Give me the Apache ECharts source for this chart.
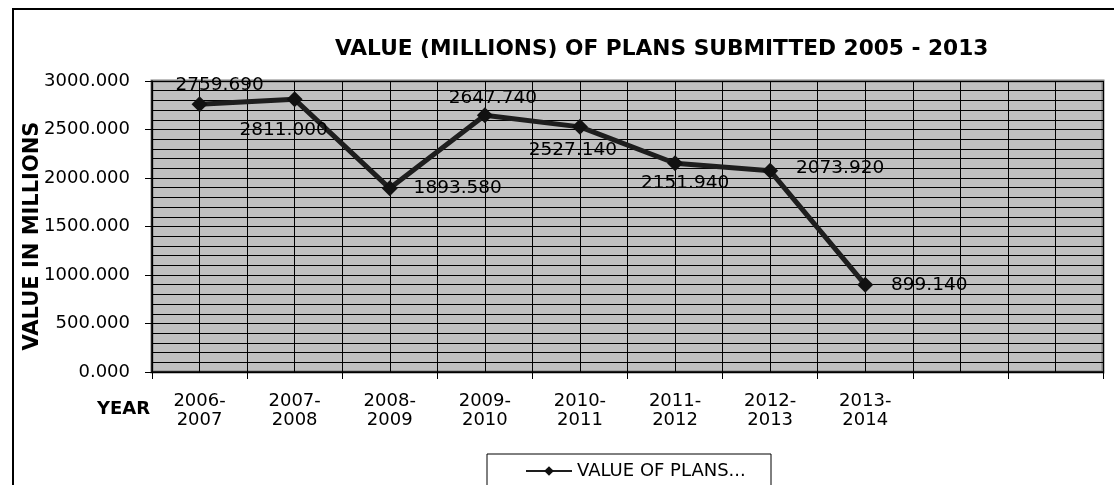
<!DOCTYPE html>
<html>
<head>
<meta charset="utf-8">
<script src="https://cdn.jsdelivr.net/npm/echarts@6/dist/echarts.min.js"></script>
<style>
  html, body { margin: 0; padding: 0; background: #fff; }
  #chart { width: 1114px; height: 485px; }
</style>
</head>
<body>
<div id="chart"></div>
<script>
// Financial years on the category axis (two trailing empty slots)
const years = ['2006-\n2007', '2007-\n2008', '2008-\n2009', '2009-\n2010', '2010-\n2011',
               '2011-\n2012', '2012-\n2013', '2013-\n2014', '', ''];
// Value of plans submitted, in millions
const planValues = [2759.69, 2811.0, 1893.58, 2647.74, 2527.14, 2151.94, 2073.92, 899.14];
// Y axis range
const yTicks = { min: 0, max: 3000, step: 500 };

// Label offsets from each point's centre
const labelOffsets = [
  [20, -19], [-11, 31], [68, 0], [8, -17], [-7, 23], [10, 20], [70, -3], [64, 0]
];

const font = '"DejaVu Sans", Verdana, sans-serif';

const chart = echarts.init(document.getElementById('chart'), null, { renderer: 'canvas' });

const seriesData = planValues.map((v, i) => ({
  value: v,
  label: {
    show: true,
    position: 'inside',
    offset: labelOffsets[i],
    formatter: p => p.value.toFixed(3),
    color: '#000',
    fontSize: 18.5,
    fontFamily: font
  }
}));

chart.setOption({
  animation: false,
  backgroundColor: '#fff',
  title: {
    text: 'VALUE (MILLIONS) OF PLANS SUBMITTED 2005 - 2013',
    left: 330,
    top: 33,
    textStyle: { fontFamily: font, fontSize: 21.7, fontWeight: 'bold', color: '#000' }
  },
  grid: {
    left: 152, right: 11, top: 81, bottom: 113,
    show: true,
    backgroundColor: '#c0c0c0',
    borderColor: '#808080',
    borderWidth: 3
  },
  legend: {
    data: ['VALUE OF PLANS...'],
    left: 520,
    top: 457,
    itemWidth: 46,
    itemHeight: 12,
    itemGap: 5,
    textStyle: { fontFamily: font, fontSize: 18, color: '#000' }
  },
  xAxis: [
    {
      type: 'category',
      data: years,
      boundaryGap: true,
      axisLine: { lineStyle: { color: '#000', width: 1.5 } },
      axisTick: { show: true, length: 7, lineStyle: { color: '#000' } },
      axisLabel: {
        interval: 0, margin: 20, color: '#000', fontSize: 18, fontFamily: font, lineHeight: 19
      },
      splitLine: { show: false }
    },
    {
      // half-category vertical grid lines
      type: 'value',
      min: 0, max: 20, interval: 1,
      position: 'bottom',
      axisLine: { show: false },
      axisTick: { show: false },
      axisLabel: { show: false },
      splitLine: { show: true, lineStyle: { color: '#000', width: 1 } }
    }
  ],
  yAxis: {
    type: 'value',
    min: yTicks.min, max: yTicks.max, interval: yTicks.step,
    axisLine: { show: true, lineStyle: { color: '#000', width: 1.5 } },
    axisTick: { show: true, length: 7, lineStyle: { color: '#000' } },
    axisLabel: {
      margin: 22, color: '#000', fontSize: 18, fontFamily: font,
      formatter: v => v.toFixed(3)
    },
    splitLine: { show: true, lineStyle: { color: '#000', width: 1 } },
    minorTick: { show: false, splitNumber: 5 },
    minorSplitLine: { show: true, lineStyle: { color: '#000', width: 1 } }
  },
  series: [{
    name: 'VALUE OF PLANS...',
    type: 'line',
    xAxisIndex: 0,
    data: seriesData,
    symbol: 'diamond',
    symbolSize: 16,
    itemStyle: { color: '#111' },
    lineStyle: { color: '#1e1e1e', width: 5 },
    z: 5
  }],
  graphic: [
    {
      type: 'rect',
      shape: { x: 13, y: 9, width: 1120, height: 500 },
      style: { fill: null, stroke: '#000', lineWidth: 2 },
      silent: true
    },
    {
      type: 'rect',
      shape: { x: 487, y: 454, width: 284, height: 60 },
      style: { fill: null, stroke: '#000', lineWidth: 1 },
      silent: true
    },
    {
      type: 'text',
      x: 97,
      y: 409,
      style: { text: 'YEAR', font: 'bold 18px ' + font, fill: '#000', verticalAlign: 'middle' }
    },
    {
      type: 'text',
      x: 33,
      y: 236,
      rotation: Math.PI / 2,
      style: {
        text: 'VALUE IN MILLIONS', font: 'bold 21px ' + font, fill: '#000',
        align: 'center', verticalAlign: 'middle'
      }
    }
  ]
});
</script>
</body>
</html>
